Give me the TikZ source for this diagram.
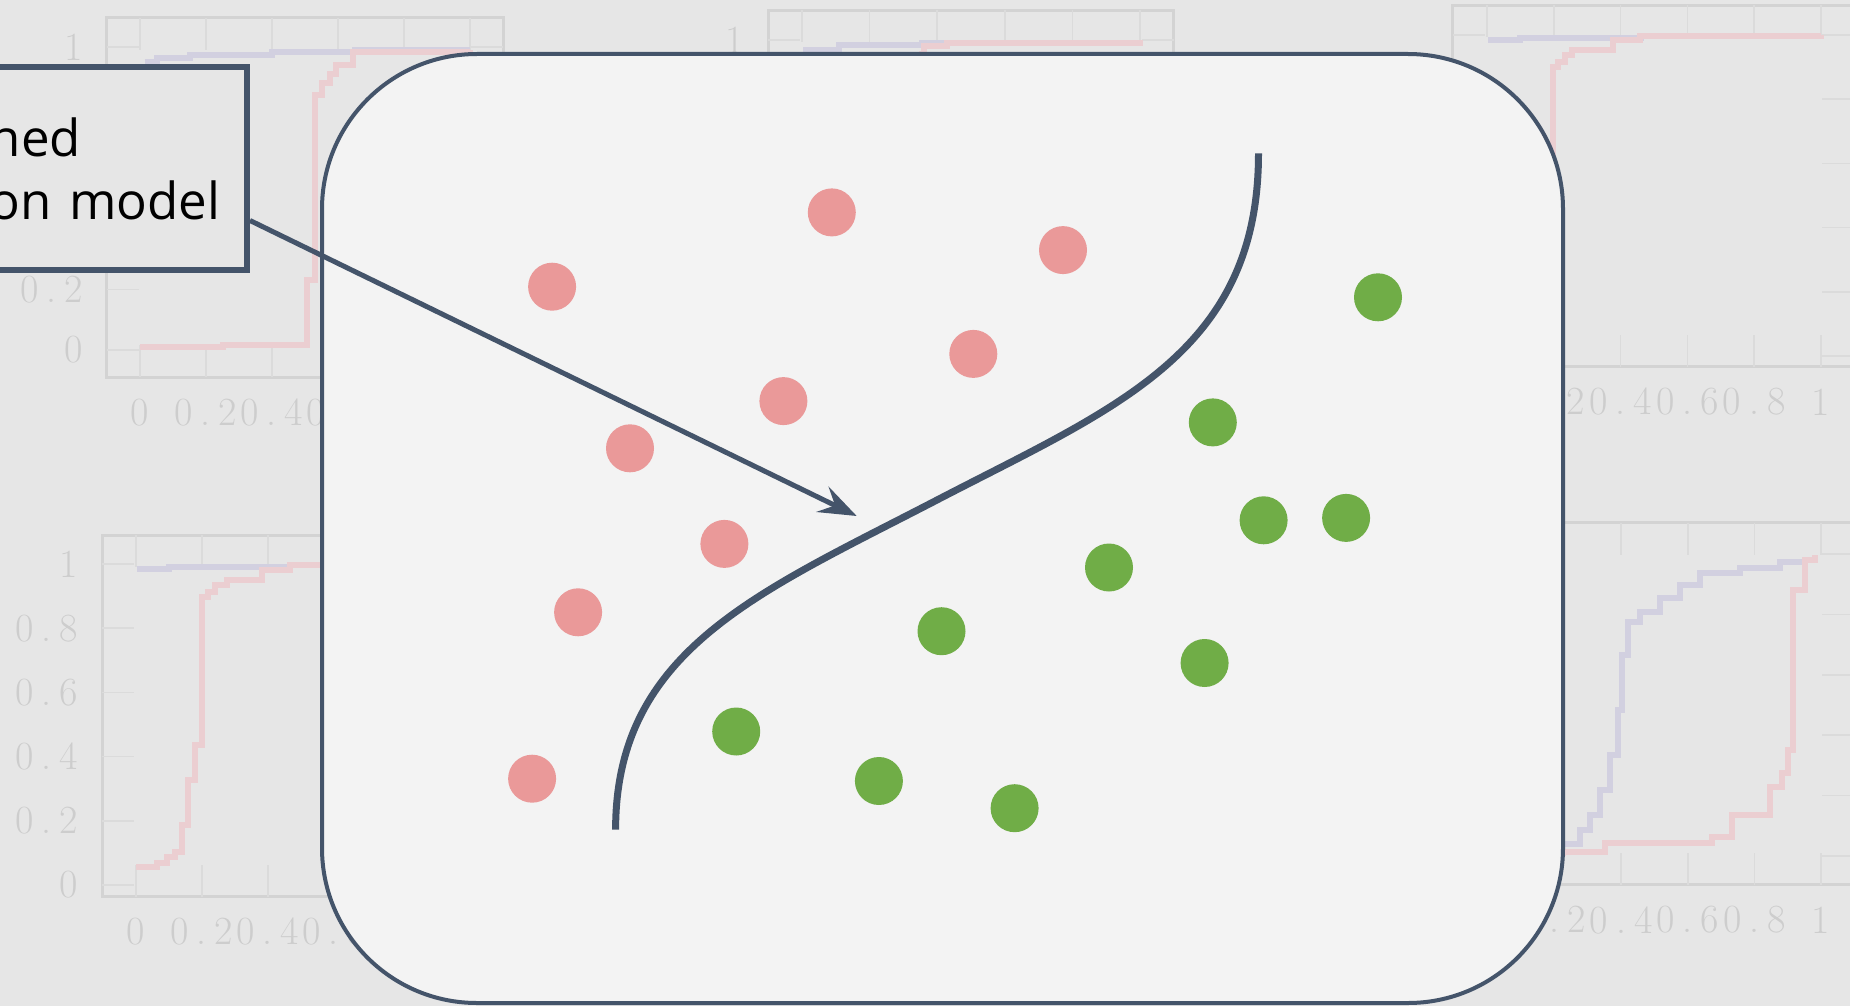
\documentclass[tikz,border=0pt]{standalone}
\usepackage{fontspec}
\newfontfamily\boxfont{Open Sans}
\usetikzlibrary{arrows.meta,calc}

\definecolor{slate}{HTML}{44546A}
\definecolor{bggray}{HTML}{E6E6E6}
\definecolor{panelgray}{HTML}{F3F3F3}
\definecolor{dotpink}{HTML}{EA9999}
\definecolor{dotgreen}{HTML}{70AD47}
\definecolor{framegray}{HTML}{D3D3D3}
\definecolor{tickgray}{HTML}{DBDBDB}
\definecolor{numgray}{HTML}{CDCDCD}
\definecolor{fadepink}{HTML}{EBCED1}
\definecolor{fadeblue}{HTML}{D2D0E0}

\tikzset{
  fadeframe/.style={draw=framegray, line width=3pt},
  fadetick/.style={draw=tickgray, line width=1.5pt},
  fadenum/.style={text=numgray, font=\fontsize{40}{40}\selectfont, inner sep=0pt},
  fadecurve/.style={line width=6pt, line join=miter},
  labelbox/.style={draw=slate, line width=6pt, fill=bggray, inner xsep=33pt,
    text width=224pt, minimum height=203pt, align=left,
    font=\boxfont\fontsize{51}{63}\selectfont},
  panelbox/.style={draw=slate, line width=4pt, fill=panelgray, rounded corners=155pt},
  boundary/.style={draw=slate, line width=7pt},
  pointer/.style={draw=slate, line width=5pt, -{Stealth[length=38pt, width=28pt, inset=14pt]}},
}
\newcommand{\pt}[1]{0\hspace{0.2em}.\hspace{0.2em}#1}

% frame, ticks and the visible tick labels of one faded plot:
% xmin, xmax, ymin, ymax, y labels, x labels
\newcommand{\fadedaxes}[6]{%
  \draw[fadeframe] (#1,#3) rectangle (#2,#4);
  \foreach \t in {0,0.2,0.4,0.6,0.8,1}{
    \draw[fadetick] (\t,#3) -- ++(0pt,32pt);
    \draw[fadetick] (\t,#4) -- ++(0pt,-32pt);
    \draw[fadetick] (#1,\t) -- ++(32pt,0pt);
    \draw[fadetick] (#2,\t) -- ++(-32pt,0pt);
  }
  \foreach \t/\s [count=\i] in {#5}
    \node[fadenum, anchor=east] (yl\i) at ([xshift=-24pt]#1,\t) {\s};
  \foreach \t/\s [count=\i] in {#6}
    \node[fadenum] (xl\i) at ([yshift=-35pt]\t,#3) {\s};
}

\begin{document}
\begin{tikzpicture}[x=1pt, y=-1pt]
  % canvas
  \useasboundingbox (0,0) rectangle (1850,1006);
  \clip (0,0) rectangle (1850,1006);
  \fill[bggray] (0,0) rectangle (1850,1006);

  % faded plots behind
  \begin{scope}[shift={(140,350)}, x=330pt, y=303pt]
    \fadedaxes{-0.1}{1.1}{-0.09}{1.096}{0/0, 0.2/\pt2, 1/1}{0/0, 0.2/\pt2, 0.4/\pt4, 0.6/\pt6}
    \draw[fadecurve, fadeblue] plot[const plot] coordinates {(0.015,0.95) (0.05,0.965) (0.15,0.975) (0.4,0.982) (0.65,0.99) (1,0.99)};
    \draw[fadecurve, fadepink] plot[const plot] coordinates {(0,0.01) (0.25,0.015) (0.506,0.23) (0.53,0.84) (0.55,0.88) (0.575,0.91) (0.595,0.94) (0.645,0.985) (1,0.99)};
  \end{scope}
  \begin{scope}[shift={(802,361)}, x=338pt, y=321pt]
    \fadedaxes{-0.1}{1.1}{-0.05}{1.093}{1/1}{}
    \draw[fadecurve, fadeblue] plot[const plot] coordinates {(0.003,0.97) (0.11,0.984) (0.355,0.99) (1,1)};
    \draw[fadecurve, fadepink] plot[const plot] coordinates {(0,0.02) (0.355,0.955) (0.362,0.98) (0.43,0.99) (1,1)};
  \end{scope}
  \begin{scope}[shift={(1487,356)}, x=334pt, y=321pt]
    \fadedaxes{-0.102}{1.1}{-0.034}{1.093}{}{0.2/\pt2, 0.4/\pt4, 0.6/\pt6, 0.8/\pt8, 1/1}
    \draw[fadecurve, fadeblue] plot[const plot] coordinates {(0.003,0.984) (0.1,0.99) (0.46,0.997) (1,1)};
    \draw[fadecurve, fadepink] plot[const plot] coordinates {(0,0.02) (0.198,0.9) (0.213,0.916) (0.234,0.938) (0.255,0.953) (0.377,0.984) (0.458,0.997) (1,1)};
  \end{scope}
  \begin{scope}[shift={(136,885)}, x=330pt, y=321pt]
    \fadedaxes{-0.103}{1.1}{-0.037}{1.09}{0/0, 0.2/\pt2, 0.4/\pt4, 0.6/\pt6, 0.8/\pt8, 1/1}{0/0, 0.2/\pt2, 0.4/\pt4, 0.6/\pt6}
    \draw[fadecurve, fadeblue] plot[const plot] coordinates {(0.003,0.984) (0.1,0.99) (0.467,0.997) (1,1)};
    \draw[fadecurve, fadepink] plot[const plot] coordinates {(0,0.056) (0.064,0.069) (0.094,0.087) (0.118,0.103) (0.139,0.187) (0.158,0.327) (0.179,0.436) (0.2,0.897) (0.218,0.913) (0.239,0.935) (0.276,0.95) (0.382,0.981) (0.467,0.997) (1,1)};
  \end{scope}
  \begin{scope}[shift={(1488,856)}, x=333pt, y=302pt]
    \fadedaxes{-0.1}{1.1}{-0.096}{1.103}{}{0.2/\pt2, 0.4/\pt4, 0.6/\pt6, 0.8/\pt8, 1/1}
    \draw[fadecurve, fadeblue] plot[const plot] coordinates {(0,0.02) (0.2,0.04) (0.276,0.086) (0.306,0.136) (0.336,0.219) (0.366,0.334) (0.39,0.483) (0.402,0.666) (0.42,0.775) (0.456,0.808) (0.516,0.854) (0.576,0.897) (0.636,0.937) (0.756,0.954) (0.876,0.974) (0.951,0.987)};
    \draw[fadecurve, fadepink] plot[const plot] coordinates {(0,0.01) (0.225,0.013) (0.351,0.043) (0.673,0.063) (0.733,0.136) (0.847,0.228) (0.883,0.275) (0.901,0.351) (0.916,0.881) (0.952,0.98) (0.982,0.997)};
  \end{scope}

  % label
  \node[labelbox, anchor=east] (lbl) at (250,168.5) {ned\\on~model};

  % panel with the two classes
  \draw[panelbox] (322,54) rectangle (1563,1003);
  \foreach \x/\y in {831.8/212.4, 552.1/286.7, 1063/250.1, 973.3/353.9, 783.4/401.1,
                     630/448.3, 724.4/543.9, 578.1/612.3, 532.1/778.7}
    \fill[dotpink] (\x,\y) circle[radius=24pt];
  \foreach \x/\y in {1378/297.3, 1212.8/422.4, 1263.6/520.3, 1346.1/517.9, 1109/567.5,
                     941.5/631.2, 1204.6/663, 736.2/731.5, 878.9/781, 1014.6/808.2}
    \fill[dotgreen] (\x,\y) circle[radius=24pt];

  % decision boundary
  \draw[boundary] (615.6,829.7) .. controls (615.6,649.7) and (759.6,592.2) .. (937,500)
                  .. controls (1114.4,407.8) and (1258.5,353.4) .. (1258.5,153.4);

  % pointer
  \coordinate (tip) at (856.7,516);
  \draw[pointer] ($(lbl.east)+(0,52)$) -- (tip);
\end{tikzpicture}
\end{document}
